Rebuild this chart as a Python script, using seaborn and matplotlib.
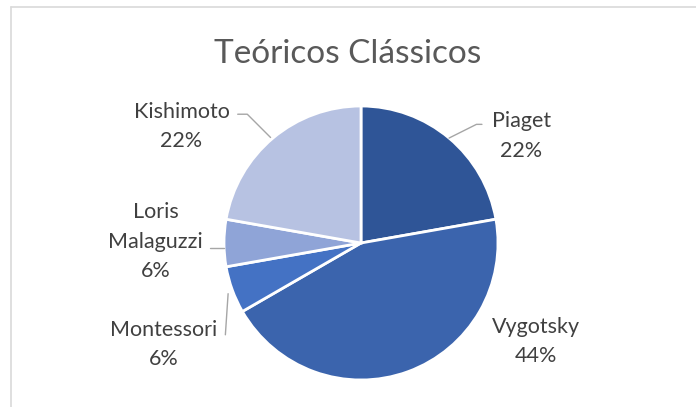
import numpy as np
import matplotlib
matplotlib.use("Agg")
import matplotlib.pyplot as plt
from matplotlib.lines import Line2D
import seaborn as sns

TITLE = "Teóricos Clássicos"
THEORISTS = ["Piaget", "Vygotsky", "Montessori", "Loris\nMalaguzzi", "Kishimoto"]
COUNTS = [4, 8, 1, 1, 4]
COLORS = ["#2F5597", "#3B64AD", "#4472C4", "#8FA4D7", "#B7C2E2"]


def main():
    sns.set_theme(style="white")
    plt.rcParams["font.family"] = ["Lato", "DejaVu Sans"]

    fig = plt.figure(figsize=(6.96, 4.07), dpi=100)
    W, H = 696, 407
    cx, cy, r = 361, 243, 137
    ax = fig.add_axes([(cx - r) / W, (H - cy - r) / H, 2 * r / W, 2 * r / H])

    wedges, _ = ax.pie(COUNTS, colors=COLORS, startangle=90, counterclock=False,
                       radius=1, wedgeprops=dict(edgecolor="white", linewidth=2))
    ax.set_xlim(-1, 1)
    ax.set_ylim(-1, 1)
    ax.set_aspect("equal")
    ax.axis("off")

    total = sum(COUNTS)
    # label block centre in data units
    label_pos = [(1.17, 0.78), (1.28, -0.72), (-1.44, -0.74), (-1.50, 0.01), (-1.31, 0.85)]
    leaders = [True, False, True, True, True]
    for w, name, n, pos, lead in zip(wedges, THEORISTS, COUNTS, label_pos, leaders):
        pct = f"{round(100 * n / total)}%"
        ax.text(pos[0], pos[1], f"{name}\n{pct}", ha="center", va="center",
                fontsize=15.5, color="#404040", linespacing=1.6, clip_on=False)
        if lead:
            mid = np.deg2rad((w.theta1 + w.theta2) / 2)
            ex, ey = np.cos(mid), np.sin(mid)
            if name.startswith("Piaget"):
                pts = [(ex, ey), (ex + 0.2, ey + 0.1), (ex + 0.24, ey + 0.1)]
            elif name.startswith("Kishimoto"):
                pts = [(-0.66, 0.77), (-0.83, 0.94), (-0.9, 0.94)]
            elif name.startswith("Loris"):
                pts = [(-1.0, -0.04), (-1.1, -0.04)]
            else:
                pts = [(-0.97, -0.37), (-0.99, -0.67)]
            xs, ys = zip(*pts)
            ax.plot(xs, ys, color="#A6A6A6", linewidth=1, clip_on=False)

    fig.text(0.5, 1 - 54 / H, TITLE, ha="center", va="center", fontsize=24, color="#595959")

    fig.add_artist(Line2D([11 / W, 1], [1 - 7 / H, 1 - 7 / H], color="#D9D9D9", linewidth=1.2))
    fig.add_artist(Line2D([11 / W, 11 / W], [0, 1 - 7 / H], color="#D9D9D9", linewidth=1.2))

    fig.savefig("out.png", dpi=100, facecolor="white")


if __name__ == "__main__":
    main()
